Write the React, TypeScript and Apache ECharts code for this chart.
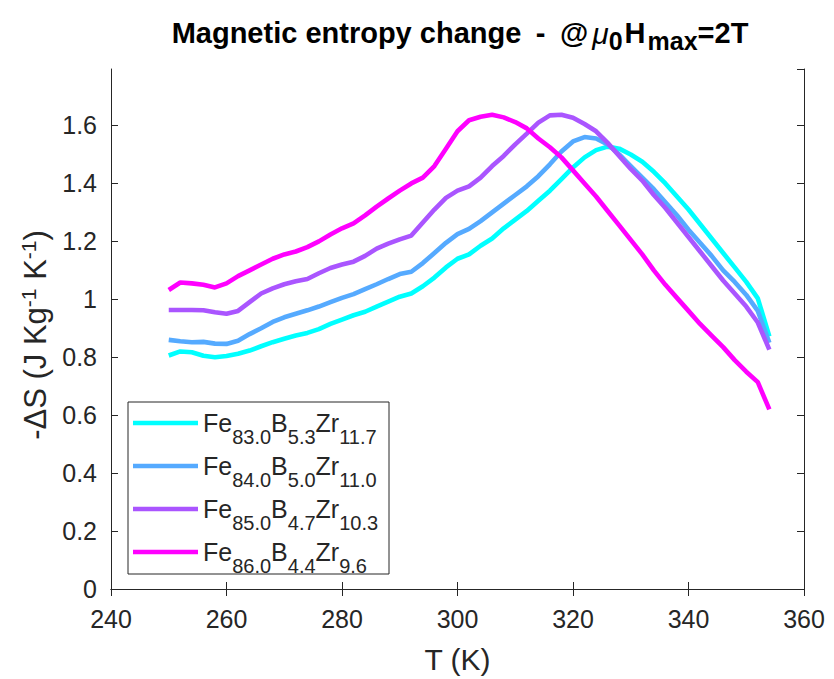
import React, { useEffect, useRef } from "react";
import * as echarts from "echarts";

const temps = [
  250, 252, 254, 256, 258, 260, 262, 264, 266, 268, 270, 272, 274, 276, 278, 280, 282, 284,
  286, 288, 290, 292, 294, 296, 298, 300, 302, 304, 306, 308, 310, 312, 314, 316, 318, 320,
  322, 324, 326, 328, 330, 332, 334, 336, 338, 340, 342, 344, 346, 348, 350, 352, 354,
];

const dsFe83 = [
  0.806, 0.82, 0.817, 0.805, 0.8, 0.804, 0.812, 0.823, 0.838, 0.852, 0.864, 0.875, 0.884, 0.897,
  0.915, 0.93, 0.945, 0.957, 0.975, 0.992, 1.009, 1.02, 1.045, 1.075, 1.11, 1.14, 1.155, 1.185,
  1.21, 1.245, 1.275, 1.305, 1.34, 1.375, 1.415, 1.455, 1.49, 1.515, 1.527, 1.52, 1.5, 1.475,
  1.44, 1.4, 1.355, 1.31, 1.26, 1.21, 1.16, 1.11, 1.06, 1.003, 0.872,
];

const dsFe84 = [
  0.86, 0.855, 0.852, 0.853, 0.847, 0.846, 0.857, 0.88, 0.9, 0.922, 0.938, 0.95, 0.962, 0.975,
  0.99, 1.005, 1.018, 1.035, 1.052, 1.07, 1.087, 1.095, 1.125, 1.16, 1.195, 1.225, 1.243, 1.27,
  1.3, 1.33, 1.36, 1.39, 1.425, 1.466, 1.51, 1.545, 1.56, 1.555, 1.535, 1.5, 1.46, 1.42, 1.38,
  1.335, 1.29, 1.24, 1.195, 1.15, 1.1, 1.06, 1.015, 0.96, 0.85,
];

const dsFe85 = [
  0.963, 0.963, 0.963, 0.962, 0.955, 0.95, 0.96, 0.99, 1.02, 1.038, 1.052, 1.062, 1.07, 1.09,
  1.108, 1.12, 1.13, 1.15, 1.175, 1.192, 1.207, 1.22, 1.265, 1.31, 1.35, 1.375, 1.39, 1.42,
  1.46, 1.495, 1.535, 1.572, 1.61, 1.635, 1.637, 1.627, 1.605, 1.58, 1.54, 1.495, 1.45, 1.41,
  1.36, 1.315, 1.265, 1.215, 1.165, 1.115, 1.065, 1.02, 0.975, 0.92, 0.826,
];

const dsFe86 = [
  1.032, 1.058, 1.055, 1.05, 1.041, 1.055, 1.08, 1.1, 1.12, 1.14, 1.155, 1.165, 1.18, 1.2,
  1.224, 1.245, 1.262, 1.29, 1.32, 1.348, 1.375, 1.4, 1.42, 1.46, 1.52, 1.58, 1.618, 1.63,
  1.637, 1.628, 1.612, 1.59, 1.555, 1.525, 1.49, 1.445, 1.4, 1.355, 1.305, 1.255, 1.205, 1.155,
  1.1, 1.05, 1.005, 0.96, 0.915, 0.875, 0.835, 0.79, 0.75, 0.714, 0.62,
];

const feSub = ["83.0", "84.0", "85.0", "86.0"];
const bSub = ["5.3", "5.0", "4.7", "4.4"];
const zrSub = ["11.7", "11.0", "10.3", "9.6"];
const seriesValues = [dsFe83, dsFe84, dsFe85, dsFe86];
const seriesColors = ["#00FFFF", "#55AAFF", "#AA55FF", "#FF00FF"];

const xTicks = { min: 240, max: 360, step: 20 };
const yTicks = { min: 0, max: 1.795, step: 0.2 };

const FONT = "'Liberation Sans', Arial, Helvetica, sans-serif";
const INK = "#262626";

export default function App() {
  const ref = useRef<HTMLDivElement>(null);

  useEffect(() => {
    if (!ref.current) return;
    const chart = echarts.init(ref.current, undefined, { renderer: "svg" });

    const names = feSub.map((f, i) => `Fe${f}B${bSub[i]}Zr${zrSub[i]}`);
    const legendText = feSub.map(
      (f, i) => `{m|Fe}{s|${f}}{m|B}{s|${bSub[i]}}{m|Zr}{s|${zrSub[i]}}`
    );

    const series = seriesValues.map((vals, i) => ({
      name: names[i],
      type: "line",
      data: vals.map((v, j) => [temps[j], v]),
      showSymbol: false,
      symbol: "none",
      lineStyle: { color: seriesColors[i], width: 4.6 },
      itemStyle: { color: seriesColors[i] },
      xAxisIndex: 0,
      yAxisIndex: 0,
    }));

    // legend drawn as a framed box (MATLAB style)
    const legendBox = { x: 128, y: 402, w: 261, h: 172, row0: 21, rowStep: 43 };
    const legendChildren: any[] = [
      {
        type: "rect",
        shape: { x: 0, y: 0, width: legendBox.w, height: legendBox.h },
        style: { fill: "#ffffff", stroke: INK, lineWidth: 1 },
      },
    ];
    names.forEach((n, i) => {
      const cy = legendBox.row0 + legendBox.rowStep * i;
      legendChildren.push({
        type: "line",
        shape: { x1: 5, y1: cy, x2: 70, y2: cy },
        style: { stroke: seriesColors[i], lineWidth: 4.6 },
      });
      legendChildren.push({
        type: "text",
        x: 75,
        y: cy,
        style: {
          text: legendText[i],
          align: "left",
          verticalAlign: "middle",
          rich: {
            m: { fontSize: 25, fill: INK, fontFamily: FONT, lineHeight: 47, verticalAlign: "middle" },
            s: { fontSize: 20, fill: INK, fontFamily: FONT, lineHeight: 9, verticalAlign: "bottom" },
          },
        },
      });
    });

    const axisLineStyle = { color: INK, width: 1 };
    const tb = { fontSize: 29, fontWeight: "bold", color: "#000", fontFamily: FONT, lineHeight: 40, verticalAlign: "middle" };
    const option: any = {
      animation: false,
      backgroundColor: "#ffffff",
      textStyle: { fontFamily: FONT },
      title: {
        text: "{b|Magnetic entropy change\u2002-\u2002}{at|@}{mu|μ}{s|0}{h|H}{s|max}{b|=2T}",
        left: 455,
        textAlign: "center",
        top: 8,
        textStyle: {
          rich: {
            b: tb,
            at: { ...tb, padding: [0, 4, 0, 0] },
            h: { ...tb, padding: [0, 2, 0, 2] },
            mu: { fontSize: 30, fontStyle: "italic", fontWeight: "normal", color: "#000", fontFamily: FONT, lineHeight: 40, verticalAlign: "middle" },
            s: { fontSize: 25, fontWeight: "bold", color: "#000", fontFamily: FONT, lineHeight: 10, verticalAlign: "bottom" },
          },
        },
      },
      grid: { left: 111, right: 30, top: 69, bottom: 88, containLabel: false },
      graphic: [
        {
          type: "group",
          x: legendBox.x,
          y: legendBox.y,
          z: 100,
          children: legendChildren,
        },
      ],
      xAxis: [
        {
          type: "value",
          position: "bottom",
          min: xTicks.min,
          max: xTicks.max,
          interval: xTicks.step,
          axisLine: { show: true, lineStyle: axisLineStyle },
          axisTick: { show: true, inside: true, length: 7, lineStyle: axisLineStyle },
          axisLabel: { fontSize: 25, color: INK, margin: 17, fontFamily: FONT },
          splitLine: { show: false },
          name: "T (K)",
          nameLocation: "middle",
          nameGap: 55,
          nameTextStyle: { fontSize: 30, color: INK, fontFamily: FONT },
        },
        {
          type: "value",
          position: "top",
          min: xTicks.min,
          max: xTicks.max,
          interval: xTicks.step,
          axisLine: { show: true, lineStyle: axisLineStyle },
          axisTick: { show: true, inside: true, length: 7, lineStyle: axisLineStyle },
          axisLabel: { show: false },
          splitLine: { show: false },
        },
      ],
      yAxis: [
        {
          type: "value",
          position: "left",
          min: yTicks.min,
          max: yTicks.max,
          interval: yTicks.step,
          axisLine: { show: true, lineStyle: axisLineStyle },
          axisTick: { show: true, inside: true, length: 7, lineStyle: axisLineStyle },
          axisLabel: {
            fontSize: 25,
            color: INK,
            margin: 14,
            fontFamily: FONT,
            showMaxLabel: false,
            formatter: (v: number) => String(Math.round(v * 10) / 10),
          },
          splitLine: { show: false },
          name: "{m|-ΔS (J Kg}{p|-1}{m| K}{p|-1}{m|)}",
          nameLocation: "middle",
          nameRotate: 90,
          nameGap: 56,
          nameTextStyle: {
            padding: [0, 12, 0, 0],
            rich: {
              m: { fontSize: 31, color: INK, fontFamily: FONT, lineHeight: 36, verticalAlign: "middle" },
              p: { fontSize: 21, color: INK, fontFamily: FONT, lineHeight: 10, verticalAlign: "top" },
            },
          },
        },
        {
          type: "value",
          position: "right",
          min: yTicks.min,
          max: yTicks.max,
          interval: yTicks.step,
          axisLine: { show: true, lineStyle: axisLineStyle },
          axisTick: { show: true, inside: true, length: 7, lineStyle: axisLineStyle },
          axisLabel: { show: false },
          splitLine: { show: false },
        },
      ],
      series,
    };

    chart.setOption(option);
    return () => chart.dispose();
  }, []);

  return (
    <div
      ref={ref}
      style={{ position: "fixed", left: 0, top: 0, width: 834, height: 679, background: "#fff" }}
    />
  );
}
